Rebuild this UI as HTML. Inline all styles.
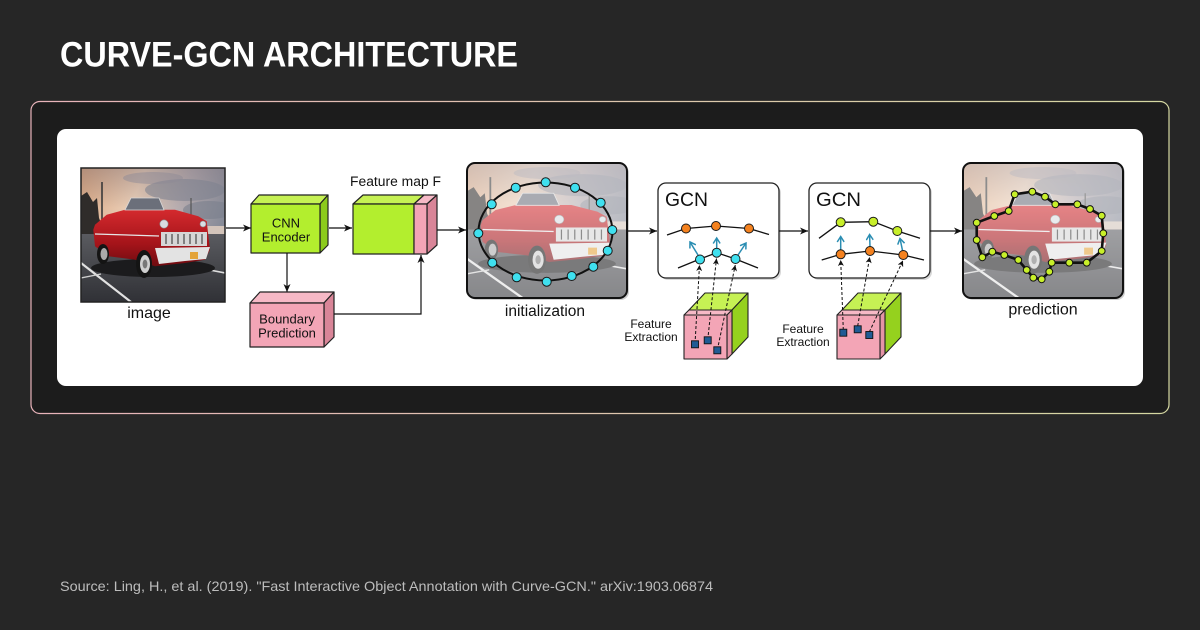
<!DOCTYPE html>
<html><head><meta charset="utf-8"><style>
html,body{margin:0;padding:0;background:#262626;}
svg{display:block;}
</style></head><body>
<svg width="1200" height="630" viewBox="0 0 1200 630" xmlns="http://www.w3.org/2000/svg">
<defs>
  <linearGradient id="frameG" x1="0" y1="0" x2="1" y2="0">
    <stop offset="0" stop-color="#e8b3ba"/><stop offset="1" stop-color="#d5d8a2"/>
  </linearGradient>
  <linearGradient id="sky" x1="0" y1="0" x2="1" y2="0.35">
    <stop offset="0" stop-color="#d8a47e"/><stop offset="0.4" stop-color="#e9cdb6"/>
    <stop offset="0.7" stop-color="#b6acaf"/><stop offset="1" stop-color="#878b98"/>
  </linearGradient>
  <linearGradient id="skyTop" x1="0" y1="0" x2="0" y2="1">
    <stop offset="0" stop-color="#6a6270" stop-opacity="0.35"/><stop offset="1" stop-color="#6a6270" stop-opacity="0"/>
  </linearGradient>
  <linearGradient id="ground" x1="0" y1="0" x2="0" y2="1">
    <stop offset="0" stop-color="#5a5b60"/><stop offset="1" stop-color="#303136"/>
  </linearGradient>
  <linearGradient id="body" x1="0" y1="0" x2="0" y2="1">
    <stop offset="0" stop-color="#d42a2e"/><stop offset="0.6" stop-color="#a5141a"/><stop offset="1" stop-color="#6e0b10"/>
  </linearGradient>
  <symbol id="scene" viewBox="0 0 144 134" preserveAspectRatio="none">
    <rect width="144" height="134" fill="url(#sky)"/>
    <rect width="144" height="40" fill="url(#skyTop)"/>
    <ellipse cx="104" cy="22" rx="40" ry="11" fill="#7f8290" opacity="0.6"/>
    <ellipse cx="128" cy="42" rx="26" ry="9" fill="#7a7f8c" opacity="0.6"/>
    <ellipse cx="72" cy="10" rx="30" ry="6" fill="#8d8a96" opacity="0.5"/>
    <rect x="0" y="58" width="144" height="10" fill="#d3c4ba"/>
    <path d="M0,28 L6,24 L12,34 L16,30 L18,50 L22,60 L24,70 L0,72 Z" fill="#2f2c2a"/>
    <line x1="21" y1="14" x2="21" y2="62" stroke="#3a3a3a" stroke-width="1.6"/>
    <line x1="110" y1="30" x2="110" y2="60" stroke="#555" stroke-width="1.2"/>
    <rect x="0" y="66" width="144" height="68" fill="url(#ground)"/>
    <line x1="0" y1="95" x2="50" y2="134" stroke="#e2e2e2" stroke-width="2.2"/>
    <line x1="0" y1="110" x2="20" y2="106" stroke="#cfcfcf" stroke-width="1.4"/>
    <line x1="108" y1="98" x2="144" y2="105" stroke="#dedede" stroke-width="1.6"/>
    <ellipse cx="72" cy="100" rx="62" ry="9" fill="#1b1b1d"/>
    <path d="M14,56.7 L25.7,46.7 L44,41.7 L94,41.7 L117.3,48.3 L125.7,53.3 L129,81.7 L124,91.7 L104,95 L74,98.3 L54,91.7 L27.3,88.3 L14,78.3 L12.3,61.7 Z" fill="url(#body)"/>
    <path d="M44,42 L50,30 L78,30 L83,42 Z" fill="#6b6f7a" stroke="#d8d8d8" stroke-width="0.8"/>
    <line x1="14" y1="66" x2="78" y2="68" stroke="#e6e6e6" stroke-width="1.3"/>
    <circle cx="83" cy="56" r="4.2" fill="#d9dde2" stroke="#888" stroke-width="0.6"/>
    <circle cx="122" cy="56" r="3" fill="#d9dde2" stroke="#888" stroke-width="0.6"/>
    <rect x="80" y="64" width="46" height="14" fill="#d6d6d6"/>
    <g stroke="#3a3a3a" stroke-width="1.1">
      <line x1="85" y1="66" x2="85" y2="76"/><line x1="91" y1="66" x2="91" y2="76"/><line x1="97" y1="66" x2="97" y2="76"/>
      <line x1="103" y1="66" x2="103" y2="76"/><line x1="109" y1="66" x2="109" y2="76"/><line x1="115" y1="66" x2="115" y2="76"/><line x1="121" y1="66" x2="121" y2="76"/>
    </g>
    <path d="M74,80 L129,79 L125,91 L104,93 L78,96 Z" fill="#e3e3e3"/>
    <rect x="109" y="84" width="8" height="7" fill="#e3a33a"/>
    <ellipse cx="63" cy="96" rx="8" ry="14" fill="#141414"/>
    <ellipse cx="64" cy="96" rx="5" ry="9" fill="#cfcfcf"/>
    <ellipse cx="64" cy="96" rx="2.4" ry="4.5" fill="#777"/>
    <ellipse cx="22" cy="86" rx="6" ry="10" fill="#141414"/>
    <ellipse cx="23" cy="86" rx="3.5" ry="6" fill="#aaa"/>
  </symbol>
  <clipPath id="clipInit"><rect x="467" y="163" width="160" height="135" rx="8"/></clipPath>
  <clipPath id="clipPred"><rect x="963" y="163" width="160" height="135" rx="8"/></clipPath>
  <marker id="ah" markerWidth="9" markerHeight="8" refX="8" refY="4" orient="auto" markerUnits="userSpaceOnUse">
    <path d="M0,0.5 L8,4 L0,7.5 L2.2,4 Z" fill="#111"/>
  </marker>
  <marker id="ahs" markerWidth="7" markerHeight="6" refX="6" refY="3" orient="auto" markerUnits="userSpaceOnUse">
    <path d="M0,0 L6,3 L0,6 L1.6,3 Z" fill="#111"/>
  </marker>
  <marker id="aht" markerWidth="8" markerHeight="8" refX="6" refY="4" orient="auto" markerUnits="userSpaceOnUse">
    <path d="M0.5,0.5 L6,4 L0.5,7.5" fill="none" stroke="#2a8db2" stroke-width="1.5"/>
  </marker>
</defs>

<rect width="1200" height="630" fill="#262626"/>
<text x="60" y="66.5" font-family="Liberation Sans, sans-serif" font-weight="bold" font-size="35" fill="#ffffff" textLength="458" lengthAdjust="spacingAndGlyphs">CURVE-GCN ARCHITECTURE</text>

<rect x="31" y="101.5" width="1138" height="312" rx="9" fill="#1c1c1c" stroke="url(#frameG)" stroke-width="1.2"/>
<rect x="57" y="129" width="1086" height="257" rx="9" fill="#ffffff"/>

<g font-family="Liberation Sans, DejaVu Sans, sans-serif" fill="#111">
<!-- input image -->
<use href="#scene" x="81" y="168" width="144" height="134"/>
<rect x="81" y="168" width="144" height="134" fill="none" stroke="#222" stroke-width="1.5"/>
<text x="149" y="318" font-size="16" text-anchor="middle">image</text>

<line x1="226" y1="228" x2="251" y2="228" stroke="#111" stroke-width="1.2" marker-end="url(#ah)"/>

<!-- CNN encoder -->
<g stroke="#222" stroke-width="1.2" stroke-linejoin="round">
  <polygon points="251,204 320,204 328,195 259,195" fill="#c6f154"/>
  <polygon points="320,204 328,195 328,245 320,253" fill="#8ccb1c"/>
  <rect x="251" y="204" width="69" height="49" fill="#b3ee2e"/>
</g>
<text x="286" y="227.5" font-size="13" text-anchor="middle">CNN</text>
<text x="286" y="241.5" font-size="13" text-anchor="middle">Encoder</text>

<line x1="329" y1="228" x2="352" y2="228" stroke="#111" stroke-width="1.2" marker-end="url(#ah)"/>

<!-- feature map -->
<text x="350" y="186" font-size="13.5" textLength="91" lengthAdjust="spacingAndGlyphs">Feature map F</text>
<g stroke="#222" stroke-width="1.2" stroke-linejoin="round">
  <polygon points="353,204 414,204 424,195 363,195" fill="#c6f154"/>
  <polygon points="414,204 427,204 437,195 424,195" fill="#f6b9c6"/>
  <polygon points="427,204 437,195 437,245 427,254" fill="#d98598"/>
  <rect x="353" y="204" width="61" height="50" fill="#b3ee2e"/>
  <rect x="414" y="204" width="13" height="50" fill="#f3a5b6"/>
</g>

<line x1="437" y1="230" x2="466" y2="230" stroke="#111" stroke-width="1.2" marker-end="url(#ah)"/>
<line x1="287" y1="253" x2="287" y2="292" stroke="#111" stroke-width="1.2" marker-end="url(#ah)"/>

<!-- boundary prediction -->
<g stroke="#222" stroke-width="1.2" stroke-linejoin="round">
  <polygon points="250,303 324,303 334,292 260,292" fill="#f6b9c6"/>
  <polygon points="324,303 334,292 334,337 324,347" fill="#d98598"/>
  <rect x="250" y="303" width="74" height="44" fill="#f3a5b6"/>
</g>
<text x="287" y="323.5" font-size="13" text-anchor="middle">Boundary</text>
<text x="287" y="337.5" font-size="13" text-anchor="middle">Prediction</text>
<polyline points="334,314 421,314 421,255" fill="none" stroke="#111" stroke-width="1.2" marker-end="url(#ah)"/>

<!-- initialization -->
<rect x="469" y="165" width="160" height="135" rx="8" fill="#cfcfcf"/>
<g clip-path="url(#clipInit)">
  <use href="#scene" x="467" y="163" width="160" height="135"/>
  <rect x="467" y="163" width="160" height="135" fill="#ffffff" opacity="0.42"/>
</g>
<rect x="467" y="163" width="160" height="135" rx="8" fill="none" stroke="#111" stroke-width="2"/>
<ellipse cx="545.5" cy="231.5" rx="67" ry="49" fill="none" stroke="#111" stroke-width="2"/>
<g fill="#3fe0ef" stroke="#1a1a1a" stroke-width="1">
  <circle cx="545.7" cy="182.3" r="4.5"/><circle cx="575" cy="187.7" r="4.5"/><circle cx="600.7" cy="202.7" r="4.5"/>
  <circle cx="612.3" cy="230" r="4.5"/><circle cx="607.7" cy="250.7" r="4.5"/><circle cx="593.3" cy="266.7" r="4.5"/>
  <circle cx="571.7" cy="276" r="4.5"/><circle cx="546.7" cy="281.7" r="4.5"/><circle cx="516.7" cy="277.3" r="4.5"/>
  <circle cx="492.3" cy="262.7" r="4.5"/><circle cx="478.3" cy="233.3" r="4.5"/><circle cx="491.7" cy="204.3" r="4.5"/>
  <circle cx="515.7" cy="187.7" r="4.5"/>
</g>
<text x="545" y="316" font-size="15.5" text-anchor="middle">initialization</text>

<line x1="627" y1="231" x2="657" y2="231" stroke="#111" stroke-width="1.2" marker-end="url(#ah)"/>

<!-- GCN 1 -->
<rect x="660" y="185" width="121" height="95" rx="8" fill="#d8d8d8"/>
<rect x="658" y="183" width="121" height="95" rx="8" fill="#fff" stroke="#222" stroke-width="1.3"/>
<text x="665" y="206" font-size="19" textLength="43" lengthAdjust="spacingAndGlyphs">GCN</text>
<polyline points="667,235 686,228.5 716,226 749,228.5 769,234.5" fill="none" stroke="#111" stroke-width="1.3"/>
<polyline points="678,268 700,259 716.7,252.7 735.5,259 758,268" fill="none" stroke="#111" stroke-width="1.3"/>

<!-- feature cube 1 -->
<g stroke="#222" stroke-width="1.1" stroke-linejoin="round">
  <polygon points="689,310 732,310 748,293 705,293" fill="#c6f154"/>
  <polygon points="732,310 748,293 748,337 732,354" fill="#95d11e"/>
  <polygon points="684,315 727,315 732,310 689,310" fill="#f6b9c6"/>
  <polygon points="727,315 732,310 732,354 727,359" fill="#e594a6"/>
  <rect x="684" y="315" width="43" height="44" fill="#f3a5b6"/>
</g>
<g stroke="#111" stroke-width="1" stroke-dasharray="3,2" fill="none">
  <line x1="695" y1="344" x2="699.5" y2="265" marker-end="url(#ahs)"/>
  <line x1="707.7" y1="340" x2="716.5" y2="258.5" marker-end="url(#ahs)"/>
  <line x1="717.3" y1="350" x2="735.3" y2="265" marker-end="url(#ahs)"/>
</g>
<g fill="#1f5b94" stroke="#111" stroke-width="0.9">
  <rect x="691.5" y="340.8" width="7" height="7"/><rect x="704.2" y="336.8" width="7" height="7"/><rect x="713.8" y="346.8" width="7" height="7"/>
</g>
<text x="651" y="328" font-size="12" text-anchor="middle">Feature</text>
<text x="651" y="341" font-size="12" text-anchor="middle">Extraction</text>

<g stroke="#2a8db2" stroke-width="1.5" marker-end="url(#aht)">
  <line x1="698" y1="255" x2="690" y2="242"/>
  <line x1="716.7" y1="248" x2="716.7" y2="238"/>
  <line x1="738" y1="255" x2="746" y2="243"/>
</g>
<g fill="#f5821f" stroke="#1a1a1a" stroke-width="1">
  <circle cx="686" cy="228.5" r="4.5"/><circle cx="716" cy="226" r="4.5"/><circle cx="749" cy="228.5" r="4.5"/>
</g>
<g fill="#3fe0ef" stroke="#1a1a1a" stroke-width="1">
  <circle cx="700" cy="259.5" r="4.5"/><circle cx="716.7" cy="252.7" r="4.5"/><circle cx="735.5" cy="259" r="4.5"/>
</g>

<line x1="779" y1="231" x2="808" y2="231" stroke="#111" stroke-width="1.2" marker-end="url(#ah)"/>

<!-- GCN 2 -->
<rect x="811" y="185" width="121" height="95" rx="8" fill="#d8d8d8"/>
<rect x="809" y="183" width="121" height="95" rx="8" fill="#fff" stroke="#222" stroke-width="1.3"/>
<text x="816" y="206" font-size="19" textLength="45" lengthAdjust="spacingAndGlyphs">GCN</text>
<polyline points="819,238.3 840.7,222.3 873.3,221.7 897.3,231 920,238.3" fill="none" stroke="#111" stroke-width="1.3"/>
<polyline points="821.7,260 840.7,254.3 870,251 903.3,255 924,260" fill="none" stroke="#111" stroke-width="1.3"/>

<!-- feature cube 2 -->
<g stroke="#222" stroke-width="1.1" stroke-linejoin="round">
  <polygon points="842,310 885,310 901,293 858,293" fill="#c6f154"/>
  <polygon points="885,310 901,293 901,337 885,354" fill="#95d11e"/>
  <polygon points="837,315 880,315 885,310 842,310" fill="#f6b9c6"/>
  <polygon points="880,315 885,310 885,354 880,359" fill="#e594a6"/>
  <rect x="837" y="315" width="43" height="44" fill="#f3a5b6"/>
</g>
<g stroke="#111" stroke-width="1" stroke-dasharray="3,2" fill="none">
  <line x1="843.3" y1="330" x2="840.7" y2="260" marker-end="url(#ahs)"/>
  <line x1="857.7" y1="326" x2="869.7" y2="257" marker-end="url(#ahs)"/>
  <line x1="869.3" y1="332" x2="903" y2="260.5" marker-end="url(#ahs)"/>
</g>
<g fill="#1f5b94" stroke="#111" stroke-width="0.9">
  <rect x="839.8" y="329.2" width="7" height="7"/><rect x="854.2" y="325.8" width="7" height="7"/><rect x="865.8" y="331.5" width="7" height="7"/>
</g>
<text x="803" y="333" font-size="12" text-anchor="middle">Feature</text>
<text x="803" y="346" font-size="12" text-anchor="middle">Extraction</text>

<g stroke="#2a8db2" stroke-width="1.5" marker-end="url(#aht)">
  <line x1="840.7" y1="250" x2="840.7" y2="236.5"/>
  <line x1="870" y1="247" x2="869.6" y2="234.5"/>
  <line x1="902.5" y1="250.5" x2="900" y2="238.5"/>
</g>
<g fill="#c8ef2a" stroke="#1a1a1a" stroke-width="1">
  <circle cx="840.7" cy="222.3" r="4.5"/><circle cx="873.3" cy="221.7" r="4.5"/><circle cx="897.3" cy="231" r="4.5"/>
</g>
<g fill="#f5821f" stroke="#1a1a1a" stroke-width="1">
  <circle cx="840.7" cy="254.3" r="4.5"/><circle cx="870" cy="251" r="4.5"/><circle cx="903.3" cy="255" r="4.5"/>
</g>

<line x1="930" y1="231" x2="962" y2="231" stroke="#111" stroke-width="1.2" marker-end="url(#ah)"/>

<!-- prediction -->
<rect x="965" y="165" width="160" height="135" rx="8" fill="#cfcfcf"/>
<g clip-path="url(#clipPred)">
  <use href="#scene" x="963" y="163" width="160" height="135"/>
  <rect x="963" y="163" width="160" height="135" fill="#ffffff" opacity="0.42"/>
</g>
<rect x="963" y="163" width="160" height="135" rx="8" fill="none" stroke="#111" stroke-width="2"/>
<polygon points="976.7,222.7 994.3,216 1008.7,211 1014.7,194.3 1032.3,191.7 1045,196.7 1055.3,204.3 1077.3,204.3 1090,209 1101.7,215.7 1103.3,233.3 1101.7,251 1086.7,262.7 1069.3,262.7 1051.7,262.7 1049.3,271.7 1041.7,279.3 1033.3,277.7 1026.7,270 1018.3,260 1004.3,255 992.3,251.7 982.3,257.3 976.7,240" fill="none" stroke="#111" stroke-width="2.6" stroke-linejoin="round"/>
<g fill="#c8ef2a" stroke="#111" stroke-width="1">
  <circle cx="976.7" cy="222.7" r="3.4"/><circle cx="994.3" cy="216" r="3.4"/><circle cx="1008.7" cy="211" r="3.4"/>
  <circle cx="1014.7" cy="194.3" r="3.4"/><circle cx="1032.3" cy="191.7" r="3.4"/><circle cx="1045" cy="196.7" r="3.4"/>
  <circle cx="1055.3" cy="204.3" r="3.4"/><circle cx="1077.3" cy="204.3" r="3.4"/><circle cx="1090" cy="209" r="3.4"/>
  <circle cx="1101.7" cy="215.7" r="3.4"/><circle cx="1103.3" cy="233.3" r="3.4"/><circle cx="1101.7" cy="251" r="3.4"/>
  <circle cx="1086.7" cy="262.7" r="3.4"/><circle cx="1069.3" cy="262.7" r="3.4"/><circle cx="1051.7" cy="262.7" r="3.4"/>
  <circle cx="1049.3" cy="271.7" r="3.4"/><circle cx="1041.7" cy="279.3" r="3.4"/><circle cx="1033.3" cy="277.7" r="3.4"/>
  <circle cx="1026.7" cy="270" r="3.4"/><circle cx="1018.3" cy="260" r="3.4"/><circle cx="1004.3" cy="255" r="3.4"/>
  <circle cx="992.3" cy="251.7" r="3.4"/><circle cx="982.3" cy="257.3" r="3.4"/><circle cx="976.7" cy="240" r="3.4"/>
</g>
<text x="1043" y="314.5" font-size="16" text-anchor="middle">prediction</text>
</g>

<text x="60" y="591" font-family="Liberation Sans, sans-serif" font-size="14" fill="#bdbdbd" textLength="653" lengthAdjust="spacingAndGlyphs">Source: Ling, H., et al. (2019). "Fast Interactive Object Annotation with Curve-GCN." arXiv:1903.06874</text>
</svg>
</body></html>
